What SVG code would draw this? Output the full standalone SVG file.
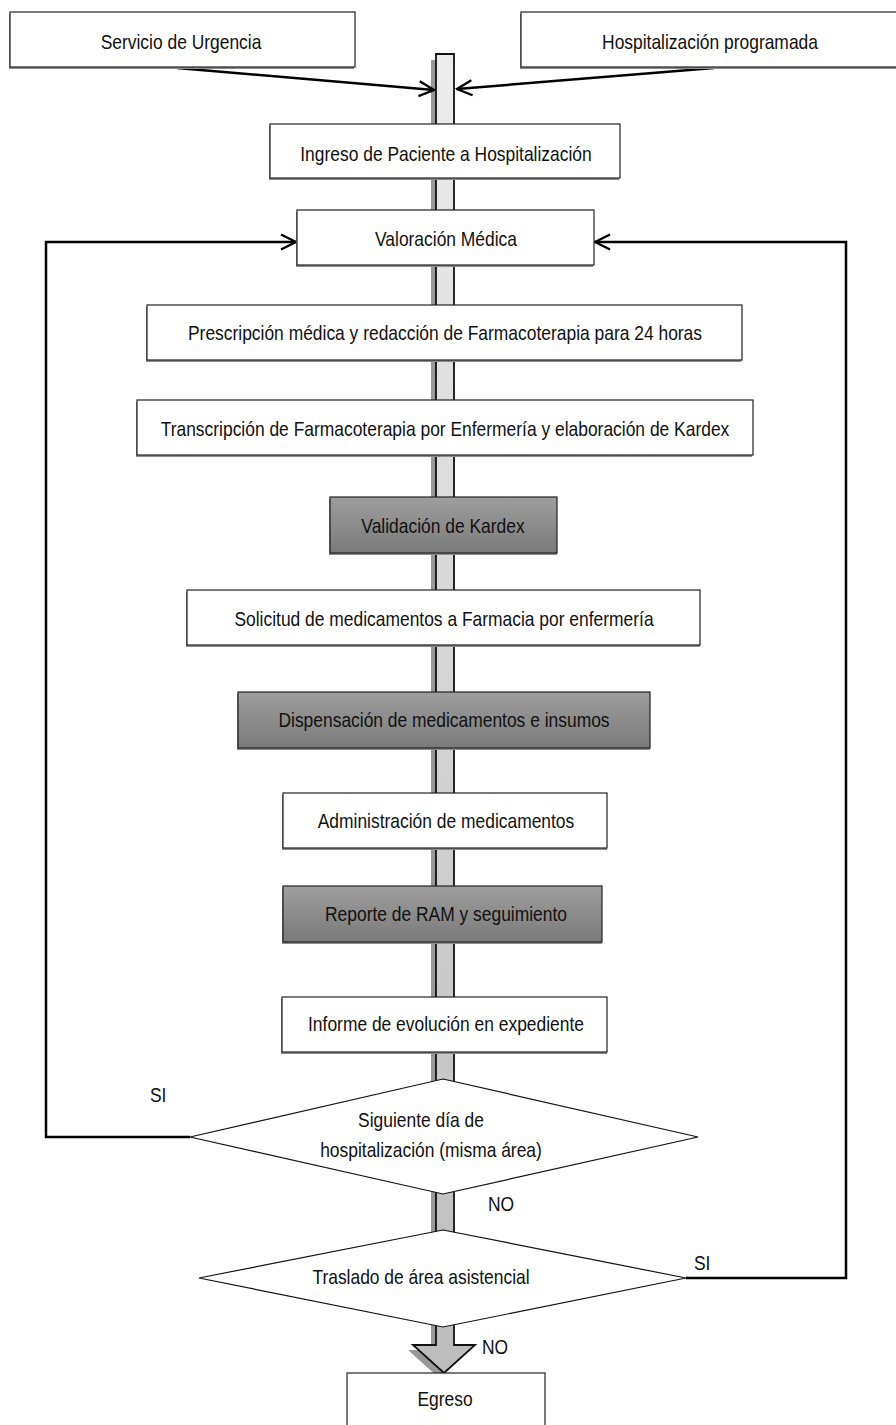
<svg xmlns="http://www.w3.org/2000/svg" width="896" height="1425" viewBox="0 0 896 1425">
<defs>
<style>
text{font-family:"Liberation Sans Narrow","Arial Narrow","Liberation Sans",Arial,sans-serif;font-size:20.5px;fill:#111;text-anchor:middle;dominant-baseline:central}
.box{fill:#fff;stroke:#222;stroke-width:1.2}
.dark{fill:url(#dk);stroke:#222;stroke-width:1.2}
.sh{fill:#8c8c8c}
.dia{fill:#fff;stroke:#111;stroke-width:1.2}
.con{fill:none;stroke:#000;stroke-width:2.5}
.lbl{text-anchor:start}
</style>
<linearGradient id="dk" x1="0" y1="0" x2="0" y2="1">
<stop offset="0" stop-color="#9e9e9e"/>
<stop offset="1" stop-color="#7a7a7a"/>
</linearGradient>
<linearGradient id="bar" x1="0" y1="0" x2="0" y2="1">
<stop offset="0" stop-color="#ececec"/>
<stop offset="1" stop-color="#bcbcbc"/>
</linearGradient>
<marker id="ah" viewBox="0 0 12 12" refX="11" refY="6" markerWidth="18" markerHeight="18" markerUnits="userSpaceOnUse" orient="auto">
<path d="M1,1 L11,6 L1,11" fill="none" stroke="#000" stroke-width="1.6"/>
</marker>
</defs>

<g id="main-arrow">
<path d="M431,60 L449,60 L449,1350 L470,1350 L439,1378 L408,1350 L431,1350 Z" fill="#999"/>
<path d="M436,54 L454,54 L454,1345 L475,1345 L444,1373 L413,1345 L436,1345 Z" fill="url(#bar)" stroke="#111" stroke-width="1.8"/>
</g>

<g id="connectors">
<line class="con" x1="177" y1="68" x2="434" y2="90" marker-end="url(#ah)"/>
<line class="con" x1="714" y1="68" x2="457" y2="89" marker-end="url(#ah)"/>
<polyline class="con" points="190,1137 46,1137 46,242 296,242" marker-end="url(#ah)"/>
<polyline class="con" points="686,1278 846,1278 846,242 595,242" marker-end="url(#ah)"/>
</g>

<g id="n-servicio">
<rect class="sh" x="9" y="14" width="345" height="55"/>
<rect class="box" x="10" y="12" width="345" height="55"/>
<text transform="translate(181,42) scale(0.85,1)">Servicio de Urgencia</text>
</g>
<g id="n-hospprog">
<rect class="sh" x="520" y="14" width="390" height="55"/>
<rect class="box" x="521" y="12" width="390" height="55"/>
<text transform="translate(710,42) scale(0.85,1)">Hospitalización programada</text>
</g>
<g id="n-ingreso">
<rect class="sh" x="269" y="126" width="350" height="54"/>
<rect class="box" x="270" y="124" width="350" height="54"/>
<text transform="translate(446,154) scale(0.85,1)">Ingreso de Paciente a Hospitalización</text>
</g>
<g id="n-valoracion">
<rect class="sh" x="296" y="212" width="297" height="55"/>
<rect class="box" x="297" y="210" width="297" height="55"/>
<text transform="translate(446,239) scale(0.85,1)">Valoración Médica</text>
</g>
<g id="n-prescripcion">
<rect class="sh" x="146" y="307" width="595" height="55"/>
<rect class="box" x="147" y="305" width="595" height="55"/>
<text transform="translate(445,333) scale(0.85,1)">Prescripción médica y redacción de Farmacoterapia para 24 horas</text>
</g>
<g id="n-transcripcion">
<rect class="sh" x="136" y="402" width="616" height="55"/>
<rect class="box" x="137" y="400" width="616" height="55"/>
<text transform="translate(445,429) scale(0.85,1)">Transcripción de Farmacoterapia por Enfermería y elaboración de Kardex</text>
</g>
<g id="n-validacion">
<rect class="sh" x="329" y="499" width="228" height="56"/>
<rect class="dark" x="330" y="497" width="227" height="56"/>
<text transform="translate(443,526) scale(0.85,1)">Validación de Kardex</text>
</g>
<g id="n-solicitud">
<rect class="sh" x="186" y="592" width="514" height="55"/>
<rect class="box" x="187" y="590" width="513" height="55"/>
<text transform="translate(444,619) scale(0.85,1)">Solicitud de medicamentos a Farmacia por enfermería</text>
</g>
<g id="n-dispensacion">
<rect class="sh" x="237" y="694" width="413" height="56"/>
<rect class="dark" x="238" y="692" width="412" height="56"/>
<text transform="translate(444,720) scale(0.85,1)">Dispensación de medicamentos e insumos</text>
</g>
<g id="n-administracion">
<rect class="sh" x="282" y="795" width="325" height="55"/>
<rect class="box" x="283" y="793" width="324" height="55"/>
<text transform="translate(446,821) scale(0.85,1)">Administración de medicamentos</text>
</g>
<g id="n-reporte">
<rect class="sh" x="282" y="888" width="320" height="56"/>
<rect class="dark" x="283" y="886" width="319" height="56"/>
<text transform="translate(446,914) scale(0.85,1)">Reporte de RAM y seguimiento</text>
</g>
<g id="n-informe">
<rect class="sh" x="281" y="999" width="326" height="55"/>
<rect class="box" x="282" y="997" width="325" height="55"/>
<text transform="translate(446,1024) scale(0.85,1)">Informe de evolución en expediente</text>
</g>
<g id="n-siguiente">
<polygon class="dia" points="443,1079 698,1137 443,1194 190,1137"/>
<text transform="translate(421,1120) scale(0.85,1)">Siguiente día de</text>
<text transform="translate(431,1150) scale(0.85,1)">hospitalización (misma área)</text>
</g>
<g id="n-traslado">
<polygon class="dia" points="443,1230 686,1278 443,1327 199,1278"/>
<text transform="translate(421,1277) scale(0.85,1)">Traslado de área asistencial</text>
</g>
<g id="n-egreso">
<rect class="box" x="347" y="1373" width="198" height="60"/>
<text transform="translate(445,1399) scale(0.85,1)">Egreso</text>
</g>

<g id="labels">
<text class="lbl" transform="translate(150,1095) scale(0.85,1)">SI</text>
<text class="lbl" transform="translate(488,1204) scale(0.85,1)">NO</text>
<text class="lbl" transform="translate(694,1263) scale(0.85,1)">SI</text>
<text class="lbl" transform="translate(482,1347) scale(0.85,1)">NO</text>
</g>
</svg>
